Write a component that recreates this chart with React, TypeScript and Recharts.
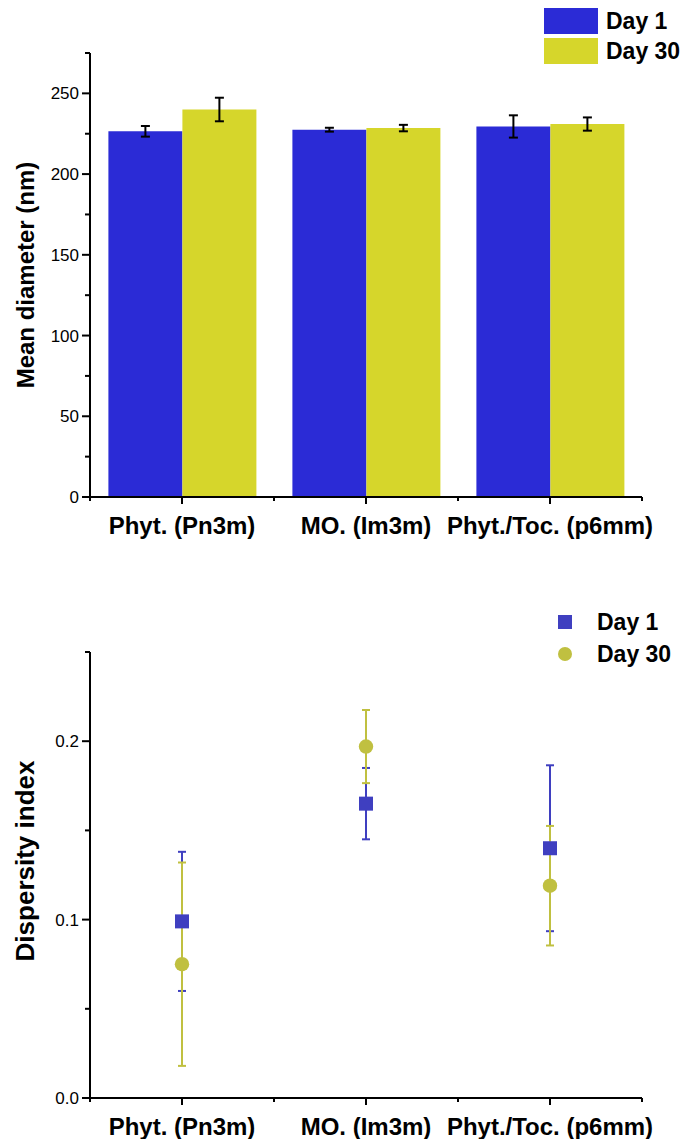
import React from "react";
import {
  Bar,
  BarChart,
  ComposedChart,
  ErrorBar,
  Line,
  XAxis,
  YAxis,
} from "recharts";

// categories shared by both panels
const categories = ["Phyt. (Pn3m)", "MO. (Im3m)", "Phyt./Toc. (p6mm)"];

// top panel: mean diameter (nm)
const diameterDay1 = [226.5, 227.5, 229.5];
const diameterDay1Err = [3.3, 1.2, 6.9];
const diameterDay30 = [240, 228.5, 231];
const diameterDay30Err = [7.3, 2.0, 4.1];
const diameterTicks = [0, 25, 50, 75, 100, 125, 150, 175, 200, 225, 250, 275];

// bottom panel: dispersity index
const dispersityDay1 = [0.099, 0.165, 0.14];
const dispersityDay1Err = [0.039, 0.02, 0.0465];
const dispersityDay30 = [0.075, 0.197, 0.119];
const dispersityDay30Err = [0.057, 0.0205, 0.0335];
const dispersityTicks = [0, 0.05, 0.1, 0.15, 0.2, 0.25];

const BAR_BLUE = "#2b2bd6";
const BAR_YELLOW = "#d6d62b";
const PT_BLUE = "#3f3fc0";
const PT_YELLOW = "#c0c040";
const FONT = "'Liberation Sans', Arial, sans-serif";

const diameterData = categories.map((name, i) => ({
  name,
  d1: diameterDay1[i],
  d1Err: diameterDay1Err[i],
  d30: diameterDay30[i],
  d30Err: diameterDay30Err[i],
}));

const dispersityData = categories.map((name, i) => ({
  name,
  d1: dispersityDay1[i],
  d1Err: dispersityDay1Err[i],
  d30: dispersityDay30[i],
  d30Err: dispersityDay30Err[i],
}));

const makeYTick = (isMajor: (v: number) => boolean, fmt: (v: number) => string) =>
  (props: any) => {
    const { x, y, payload } = props;
    const major = isMajor(payload.value);
    return (
      <g>
        <line x1={x - (major ? 8 : 5)} x2={x} y1={y} y2={y} stroke="#000" strokeWidth={2} />
        {major && (
          <text x={x - 11} y={y} dy={6} textAnchor="end" fontSize={17} fontFamily={FONT} fill="#000">
            {fmt(payload.value)}
          </text>
        )}
      </g>
    );
  };

const makeXTick = (halfBand: number, last: number) => (props: any) => {
  const { x, y, payload, index } = props;
  return (
    <g>
      <line x1={x} x2={x} y1={y} y2={y + 7} stroke="#000" strokeWidth={2} />
      <line x1={x - halfBand} x2={x - halfBand} y1={y} y2={y + 4} stroke="#000" strokeWidth={2} />
      {index === last && (
        <line x1={x + halfBand} x2={x + halfBand} y1={y} y2={y + 4} stroke="#000" strokeWidth={2} />
      )}
      <text x={x} y={y} dy={37} textAnchor="middle" fontSize={24} fontWeight="bold" fontFamily={FONT} fill="#000">
        {payload.value}
      </text>
    </g>
  );
};

const yTitle = (value: string, size: number, shift = 0) => (props: any) => {
  const { viewBox } = props;
  const cy = viewBox.y + viewBox.height / 2 + shift;
  return (
    <text
      x={25}
      y={cy}
      transform={`rotate(-90 25 ${cy})`}
      textAnchor="middle"
      dominantBaseline="central"
      fontSize={size}
      fontWeight="bold"
      fontFamily={FONT}
      fill="#000"
    >
      {value}
    </text>
  );
};

const legendText: React.CSSProperties = {
  fontFamily: FONT,
  fontWeight: "bold",
  fontSize: 23,
  color: "#000",
  lineHeight: "26px",
};

const BarLegend = () => (
  <div style={{ position: "absolute", left: 544, top: 8 }}>
    <div style={{ display: "flex", alignItems: "center", marginBottom: 4 }}>
      <div style={{ width: 54, height: 26, background: BAR_BLUE, marginRight: 8 }} />
      <span style={legendText}>Day 1</span>
    </div>
    <div style={{ display: "flex", alignItems: "center" }}>
      <div style={{ width: 54, height: 26, background: BAR_YELLOW, marginRight: 8 }} />
      <span style={legendText}>Day 30</span>
    </div>
  </div>
);

const PointLegend = () => (
  <div style={{ position: "absolute", left: 557, top: 606 }}>
    <div style={{ display: "flex", alignItems: "center", height: 32 }}>
      <svg width={40} height={16}>
        <rect x={1} y={1} width={14} height={14} fill={PT_BLUE} />
      </svg>
      <span style={legendText}>Day 1</span>
    </div>
    <div style={{ display: "flex", alignItems: "center", height: 32 }}>
      <svg width={40} height={16}>
        <circle cx={8} cy={8} r={7} fill={PT_YELLOW} />
      </svg>
      <span style={legendText}>Day 30</span>
    </div>
  </div>
);

const SquareDot = (props: any) => {
  const { cx, cy } = props;
  if (cx == null || cy == null) return null;
  return <rect x={cx - 7} y={cy - 7} width={14} height={14} fill={PT_BLUE} />;
};

const CircleDot = (props: any) => {
  const { cx, cy } = props;
  if (cx == null || cy == null) return null;
  return <circle cx={cx} cy={cy} r={7.2} fill={PT_YELLOW} />;
};

export default function App() {
  const halfBand = (689 - 90 - 47) / categories.length / 2;
  return (
    <div style={{ position: "absolute", left: 0, top: 0, width: 689, height: 1139, background: "#fff" }}>
      <div style={{ position: "absolute", left: 0, top: 0 }}>
        <BarChart
          width={689}
          height={560}
          data={diameterData}
          margin={{ top: 53, right: 47, bottom: 0, left: 0 }}
          barGap={0}
          barCategoryGap="10%"
        >
          <XAxis
            dataKey="name"
            height={63}
            axisLine={{ stroke: "#000", strokeWidth: 2 }}
            tickLine={false}
            tickSize={0}
            tickMargin={0}
            interval={0}
            tick={makeXTick(halfBand, categories.length - 1)}
          />
          <YAxis
            width={90}
            domain={[0, 275]}
            ticks={diameterTicks}
            interval={0}
            axisLine={{ stroke: "#000", strokeWidth: 2 }}
            tickLine={false}
            tickSize={0}
            tickMargin={0}
            tick={makeYTick((v) => v % 50 === 0, (v) => String(v))}
            label={yTitle("Mean diameter (nm)", 24)}
          />
          <Bar dataKey="d1" fill={BAR_BLUE} isAnimationActive={false}>
            <ErrorBar dataKey="d1Err" width={4.5} strokeWidth={2} stroke="#000" />
          </Bar>
          <Bar dataKey="d30" fill={BAR_YELLOW} isAnimationActive={false}>
            <ErrorBar dataKey="d30Err" width={4.5} strokeWidth={2} stroke="#000" />
          </Bar>
        </BarChart>
      </div>
      <BarLegend />
      <div style={{ position: "absolute", left: 0, top: 560 }}>
        <ComposedChart
          width={689}
          height={579}
          data={dispersityData}
          margin={{ top: 92, right: 47, bottom: 0, left: 0 }}
        >
          <XAxis
            dataKey="name"
            scale="band"
            height={41}
            axisLine={{ stroke: "#000", strokeWidth: 2 }}
            tickLine={false}
            tickSize={0}
            tickMargin={0}
            interval={0}
            tick={makeXTick(halfBand, categories.length - 1)}
          />
          <YAxis
            width={90}
            domain={[0, 0.25]}
            ticks={dispersityTicks}
            interval={0}
            axisLine={{ stroke: "#000", strokeWidth: 2 }}
            tickLine={false}
            tickSize={0}
            tickMargin={0}
            tick={makeYTick((v) => Math.round(v * 100) % 10 === 0, (v) => v.toFixed(1))}
            label={yTitle("Dispersity index", 26, -14)}
          />
          <Line
            dataKey="d1"
            stroke="none"
            dot={<SquareDot />}
            activeDot={false}
            isAnimationActive={false}
          >
            <ErrorBar dataKey="d1Err" width={4} strokeWidth={2} stroke={PT_BLUE} />
          </Line>
          <Line
            dataKey="d30"
            stroke="none"
            dot={<CircleDot />}
            activeDot={false}
            isAnimationActive={false}
          >
            <ErrorBar dataKey="d30Err" width={4} strokeWidth={2} stroke={PT_YELLOW} />
          </Line>
        </ComposedChart>
      </div>
      <PointLegend />
    </div>
  );
}
